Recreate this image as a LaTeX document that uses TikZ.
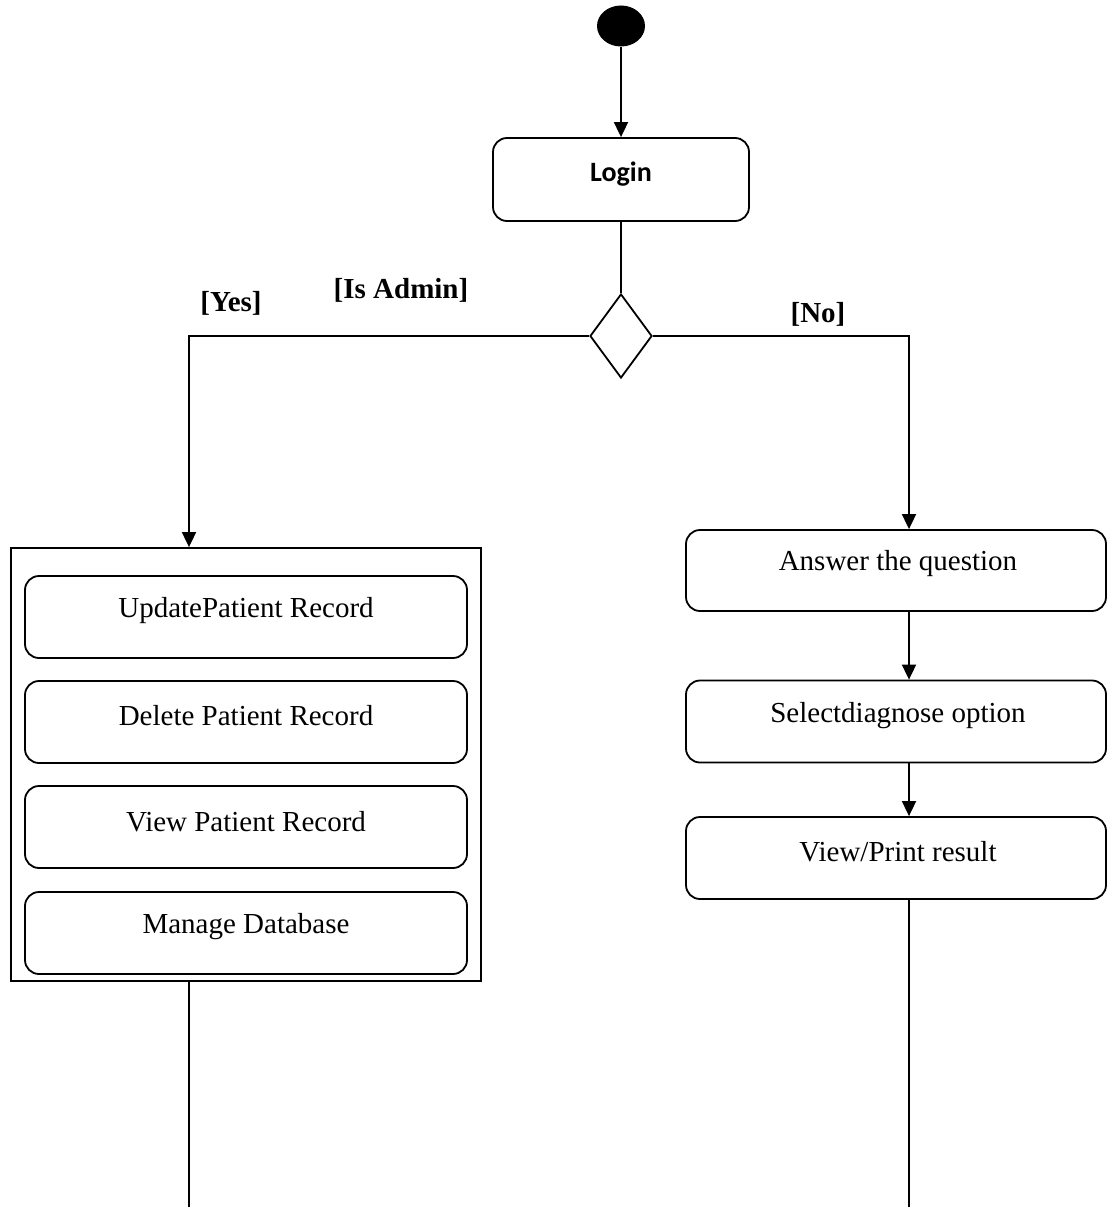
\documentclass[tikz,border=0pt]{standalone}
\usepackage{fontspec}
\setmainfont{Liberation Serif}
\newfontfamily\loginfont{Carlito}
\usetikzlibrary{arrows.meta,shapes.geometric}

\begin{document}
\begin{tikzpicture}[x=1pt,y=-1pt,line width=1.8pt,
  flow/.style={-{Triangle[width=14pt,length=15pt]}},
  actbox/.style={draw,rounded corners=14pt,inner sep=0pt},
  acttext/.style={font=\fontsize{29}{34}\selectfont,inner sep=0pt},
  guard/.style={font=\fontsize{29}{34}\selectfont\bfseries,inner sep=0pt}]
\useasboundingbox (0,0) rectangle (1107,1207);

% initial node and login
\node[ellipse,fill=black,draw=none,minimum width=48pt,minimum height=41pt,inner sep=0pt] (start) at (621,26) {};
\node[actbox,minimum width=256pt,minimum height=83pt] (login) at (621,179.5) {};
\node[inner sep=0pt,font=\loginfont\fontsize{28}{32}\selectfont\bfseries] (logintext) at (621,174) {Login};

% decision
\node[diamond,draw,aspect=0.74,minimum width=62pt,minimum height=84pt,inner sep=0pt] (dec) at (621,336) {};
\node[guard] (yes) at (231,303) {[Yes]};
\node[guard] (isadmin) at (401,290) {[Is Admin]};
\node[guard] (no) at (818,314) {[No]};

% admin activities
\node[draw,minimum width=470pt,minimum height=433pt,inner sep=0pt] (admin) at (246,764.5) {};
\node[actbox,minimum width=442pt,minimum height=82pt] (upd) at (246,617) {};
\node[acttext] (updt) at (246,611) {UpdatePatient Record};
\node[actbox,minimum width=442pt,minimum height=82pt] (del) at (246,722) {};
\node[acttext] (delt) at (246,716) {Delete Patient Record};
\node[actbox,minimum width=442pt,minimum height=82pt] (vpr) at (246,827) {};
\node[acttext] (vprt) at (246,822) {View Patient Record};
\node[actbox,minimum width=442pt,minimum height=82pt] (mdb) at (246,933) {};
\node[acttext] (mdbt) at (246,927) {Manage Database};

% user activities
\node[actbox,minimum width=420pt,minimum height=81pt] (answer) at (896,570.5) {};
\node[acttext] (answert) at (898,564) {Answer the question};
\node[actbox,minimum width=420pt,minimum height=82pt] (select) at (896,721.5) {};
\node[acttext] (selectt) at (898,716) {Selectdiagnose option};
\node[actbox,minimum width=420pt,minimum height=82pt] (view) at (896,858) {};
\node[acttext] (viewt) at (898,852) {View/Print result};

% routing points
\coordinate (yesturn) at (189,336);
\coordinate (noturn) at (909,336);
\coordinate (yesend) at (189,1207);
\coordinate (noend) at (909,1207);

% connectors
\draw[flow] (login.north |- start.south) -- (login.north);
\draw (login.south) -- (dec.north);
\draw[flow] (dec.west) -- (yesturn) -- (yesturn |- admin.north);
\draw[flow] (dec.east) -- (noturn) -- (noturn |- answer.north);
\draw[flow] (noturn |- answer.south) -- (noturn |- select.north);
\draw[flow] (noturn |- select.south) -- (noturn |- view.north);
\draw (yesend |- admin.south) -- (yesend);
\draw (noend |- view.south) -- (noend);
\end{tikzpicture}
\end{document}
